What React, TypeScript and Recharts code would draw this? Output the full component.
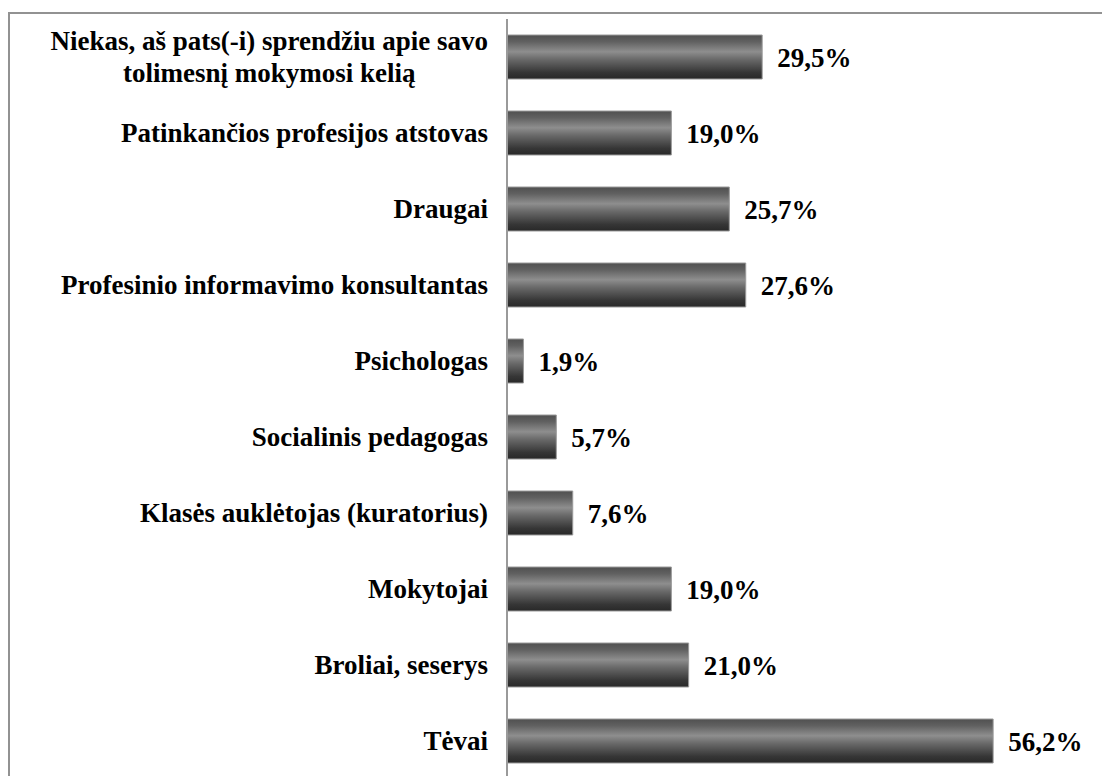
import React from "react";
import { BarChart, Bar, XAxis, YAxis, LabelList } from "recharts";

// answers, top to bottom as in the chart
const categoryLines: string[][] = [
  ["Niekas, aš pats(-i) sprendžiu apie savo", "tolimesnį mokymosi kelią"],
  ["Patinkančios profesijos atstovas"],
  ["Draugai"],
  ["Profesinio informavimo konsultantas"],
  ["Psichologas"],
  ["Socialinis pedagogas"],
  ["Klasės auklėtojas (kuratorius)"],
  ["Mokytojai"],
  ["Broliai, seserys"],
  ["Tėvai"],
];

const shares = [29.5, 19.0, 25.7, 27.6, 1.9, 5.7, 7.6, 19.0, 21.0, 56.2];

const data = categoryLines.map((lines, i) => ({
  name: lines.join(" "),
  value: shares[i],
}));

const linesByName: Record<string, string[]> = {};
categoryLines.forEach((l) => (linesByName[l.join(" ")] = l));

const FONT = "'Liberation Serif', 'Times New Roman', serif";
const FONT_SIZE = 27;

let ctx: CanvasRenderingContext2D | null = null;
function textWidth(s: string) {
  if (!ctx) ctx = document.createElement("canvas").getContext("2d");
  if (!ctx) return s.length * FONT_SIZE * 0.5;
  ctx.font = `bold ${FONT_SIZE}px ${FONT}`;
  return ctx.measureText(s).width;
}

function CategoryTick(props: any) {
  const { x, y, payload } = props;
  const lines = linesByName[payload.value] || [payload.value];
  if (lines.length === 1) {
    return (
      <text x={x} y={y + 9} textAnchor="end" fontFamily={FONT} fontSize={FONT_SIZE} fontWeight="bold" fill="#000">
        {lines[0]}
      </text>
    );
  }
  const w = Math.max(...lines.map(textWidth));
  const cx = x - w / 2;
  return (
    <text textAnchor="middle" fontFamily={FONT} fontSize={FONT_SIZE} fontWeight="bold" fill="#000">
      {lines.map((l: string, i: number) => (
        <tspan key={i} x={cx} y={y - 7 + i * 32}>
          {l}
        </tspan>
      ))}
    </text>
  );
}

export default function App() {
  return (
    <div
      style={{
        position: "fixed",
        left: 8,
        top: 12,
        width: 1094,
        height: 764,
        overflow: "hidden",
        borderTop: "2px solid #929292",
        borderLeft: "2px solid #929292",
        background: "#fff",
      }}
    >
      <BarChart
        width={1100}
        height={780}
        data={data}
        layout="vertical"
        margin={{ top: 5, right: 84, bottom: 15, left: 0 }}
      >
        <defs>
          <linearGradient id="barShade" x1="0" y1="0" x2="0" y2="1">
            <stop offset="0%" stopColor="#505050" />
            <stop offset="15%" stopColor="#606060" />
            <stop offset="38%" stopColor="#8e8e8e" />
            <stop offset="55%" stopColor="#6a6a6a" />
            <stop offset="85%" stopColor="#363636" />
            <stop offset="100%" stopColor="#282828" />
          </linearGradient>
        </defs>
        <XAxis type="number" domain={[0, 60]} hide />
        <YAxis
          type="category"
          dataKey="name"
          width={497}
          axisLine={{ stroke: "#9a9a9a", strokeWidth: 2 }}
          tickLine={false}
          tickSize={0}
          tickMargin={19}
          interval={0}
          tick={<CategoryTick />}
        />
        <Bar
          dataKey="value"
          barSize={44}
          fill="url(#barShade)"
          stroke="#9a9a9a"
          strokeWidth={1}
          isAnimationActive={false}
        >
          <LabelList
            dataKey="value"
            position="right"
            offset={15}
            formatter={(v: any) => `${Number(v).toFixed(1).replace(".", ",")}%`}
            style={{ fontFamily: FONT, fontSize: FONT_SIZE, fontWeight: "bold", fill: "#000" }}
          />
        </Bar>
      </BarChart>
    </div>
  );
}
